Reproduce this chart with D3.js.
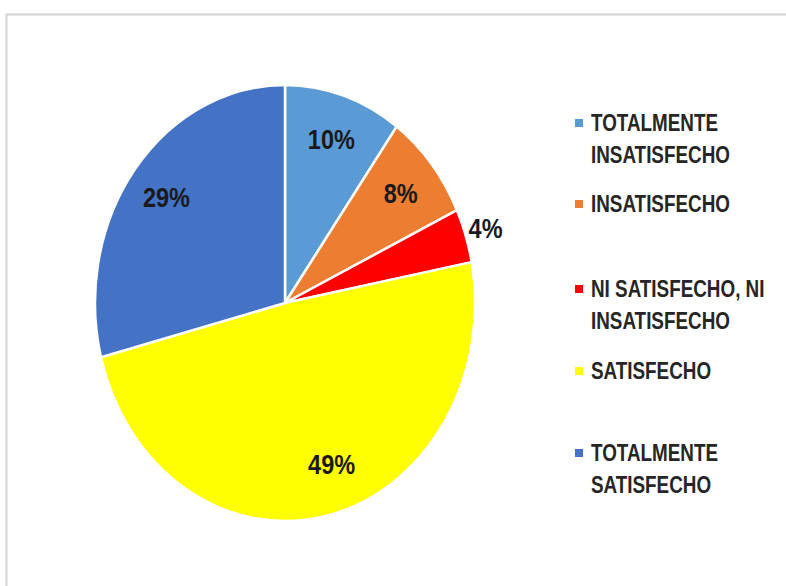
<!DOCTYPE html>
<html>
<head>
<meta charset="utf-8">
<script src="https://cdn.jsdelivr.net/npm/d3@7"></script>
<style>
  html, body { margin: 0; padding: 0; background: #fff; }
  svg { display: block; }
  text { font-family: "Liberation Sans", Arial, sans-serif; font-weight: bold; }
</style>
</head>
<body>
<svg id="chart" width="786" height="586"></svg>
<script>
// Satisfaction survey: share of respondents per answer
const categories = [
  "TOTALMENTE INSATISFECHO",
  "INSATISFECHO",
  "NI SATISFECHO, NI INSATISFECHO",
  "SATISFECHO",
  "TOTALMENTE SATISFECHO"
];
const values = [10, 8, 4, 49, 29];
const colors = ["#5B9BD5", "#ED7D31", "#FF0000", "#FFFF00", "#4472C4"];
// legend lines for each category
const legendLines = [
  ["TOTALMENTE", "INSATISFECHO"],
  ["INSATISFECHO"],
  ["NI SATISFECHO, NI", "INSATISFECHO"],
  ["SATISFECHO"],
  ["TOTALMENTE", "SATISFECHO"]
];

const svg = d3.select("#chart");

// frame edges
svg.append("line").attr("x1", 6).attr("x2", 786).attr("y1", 14.5).attr("y2", 14.5)
  .attr("stroke", "#d4d4d4").attr("stroke-width", 2);
svg.append("line").attr("x1", 6.5).attr("x2", 6.5).attr("y1", 14).attr("y2", 586)
  .attr("stroke", "#d4d4d4").attr("stroke-width", 2);

// pie: drawn as a circle and stretched vertically
const cx = 285, cy = 303, rx = 190, ry = 218;
const ky = ry / rx;

const pie = d3.pie().sort(null).value(d => d);
const arcs = pie(values);
const arc = d3.arc().innerRadius(0).outerRadius(rx);

const pieG = svg.append("g").attr("transform", `translate(${cx},${cy}) scale(1,${ky})`);
pieG.selectAll("path")
  .data(arcs)
  .join("path")
  .attr("d", arc)
  .attr("fill", (d, i) => colors[i])
  .attr("stroke", "#fff")
  .attr("stroke-width", 2.5)
  .attr("vector-effect", "non-scaling-stroke");

// percentage labels (condensed by a horizontal squeeze)
const labelRadius = [0.79, 0.79, 1.11, 0.78, 0.79];
const labelAngleShift = [0, 0, 0, -0.1, 0];   // radians
const labelG = svg.append("g").attr("transform", `translate(${cx},${cy})`);
labelG.selectAll("text")
  .data(arcs)
  .join("text")
  .attr("transform", (d, i) => {
    const a = (d.startAngle + d.endAngle) / 2 + labelAngleShift[i];
    const x = Math.sin(a) * rx * labelRadius[i];
    const y = -Math.cos(a) * ry * labelRadius[i];
    return `translate(${x},${y + 10}) scale(0.84,1)`;
  })
  .attr("text-anchor", "middle")
  .attr("font-size", 28)
  .attr("fill", "#1a1a1a")
  .text(d => d.value + "%");

// legend
const legendTop = [131, 212, 297, 379, 461];
const legend = svg.append("g");
categories.forEach((c, i) => {
  const g = legend.append("g").attr("transform", `translate(0,${legendTop[i]})`);
  g.append("rect")
    .attr("x", 575).attr("y", -12).attr("width", 8).attr("height", 8)
    .attr("fill", colors[i]);
  legendLines[i].forEach((line, j) => {
    g.append("text")
      .attr("transform", `translate(591,${j * 32}) scale(0.82,1)`)
      .attr("font-size", 23)
      .attr("fill", "#262626")
      .text(line);
  });
});
</script>
</body>
</html>
